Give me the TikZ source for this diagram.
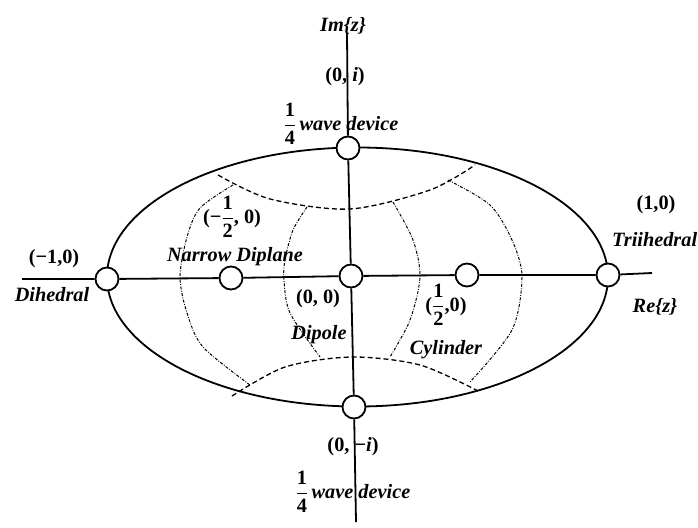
\documentclass[tikz,border=0pt]{standalone}
\usepackage{amsmath}
\usepackage{fontspec}
\setmainfont{Liberation Serif}
\newcommand\lblfont{\fontsize{20.3}{23}\selectfont\bfseries\itshape}
\newcommand\numfont{\fontsize{20.3}{23}\selectfont\bfseries}
\newcommand\fr[2]{$\dfrac{\text{\upshape #1}}{\text{\upshape #2}}$}
\begin{document}
\begin{tikzpicture}[x=1pt,y=-1pt,
  dev/.style={circle,draw,line width=1.8pt,fill=white,minimum size=23pt,inner sep=0pt},
  axis/.style={line width=1.8pt},
  rim/.style={line width=1.8pt},
  dsh/.style={line width=1.3pt,dash pattern=on 5pt off 3pt},
  ddt/.style={line width=1pt,dash pattern=on 3pt off 1.5pt on 0.8pt off 1.5pt},
  lbl/.style={font=\lblfont,inner sep=0pt},
  num/.style={font=\numfont,inner sep=0pt}]
\useasboundingbox (0,0) rectangle (698,527);
% outer ellipse
\draw[rim] (357.5,277) ellipse [x radius=250.5, y radius=129.5];
% dashed arcs
\draw[dsh] plot[smooth] coordinates {(218,175) (270,199) (350,209) (430,190) (475,165)};
\draw[dsh] plot[smooth] coordinates {(232,396) (285,367) (352,357) (420,365) (478,391)};
% dash-dot arcs
\draw[ddt] plot[smooth] coordinates {(233,185) (200,208) (187,237) (180,277) (187,313) (203,347) (250,385)};
\draw[ddt] plot[smooth] coordinates {(307,207) (293,230) (285,260) (284,280) (290,313) (320,357)};
\draw[ddt] plot[smooth] coordinates {(393,202) (413,240) (420,277) (410,320) (390,357)};
\draw[ddt] plot[smooth] coordinates {(448,180) (490,205) (512,240) (522,277) (512,330) (470,382)};
% device nodes
\node[dev] (m1) at (107,279) {};
\node[dev] (mh) at (231,278) {};
\node[dev] (o) at (351,276) {};
\node[dev] (ph) at (467,275) {};
\node[dev] (p1) at (608,275) {};
\node[dev] (ti) at (348,148) {};
\node[dev] (bi) at (354,407) {};
\coordinate (xl) at (22,279);
\coordinate (xr) at (652,273);
\coordinate (yt) at (347,33);
\coordinate (yb) at (356,522);
% axes
\draw[axis] (xl) -- (m1) (m1) -- (mh) (mh) -- (o) (o) -- (ph) (ph) -- (p1) (p1) -- (xr);
\draw[axis] (yt) -- (ti) (ti) -- (o) (o) -- (bi) (bi) -- (yb);
% labels
\node[lbl] (limz) at (343,26) {Im\{z\}};
\node[num] (l0i) at (345,77) {(0, \textit{i})};
\node[lbl] (lqt) at (341,124) {\fr{1}{4}\,wave device};
\node[num] (lmh) at (232,217) {(−\fr{1}{2}, 0)};
\node[num] (l10) at (656,205) {(1,0)};
\node[lbl,anchor=west] (ltri) at (612,240) {Triihedral};
\node[num] (lm10) at (54,259) {(−1,0)};
\node[lbl] (ldih) at (52,295) {Dihedral};
\node[lbl] (lnd) at (235,257) {Narrow Diplane};
\node[num] (l00) at (318,299) {(0, 0)};
\node[num] (lph) at (446,305) {(\fr{1}{2},0)};
\node[lbl] (lre) at (655,307) {Re\{z\}};
\node[lbl] (ldip) at (319,335) {Dipole};
\node[lbl] (lcyl) at (446,350) {Cylinder};
\node[num] (l0mi) at (353,447) {(0, −\textit{i})};
\node[lbl] (lqb) at (353,492) {\fr{1}{4}\,wave device};
\end{tikzpicture}
\end{document}
